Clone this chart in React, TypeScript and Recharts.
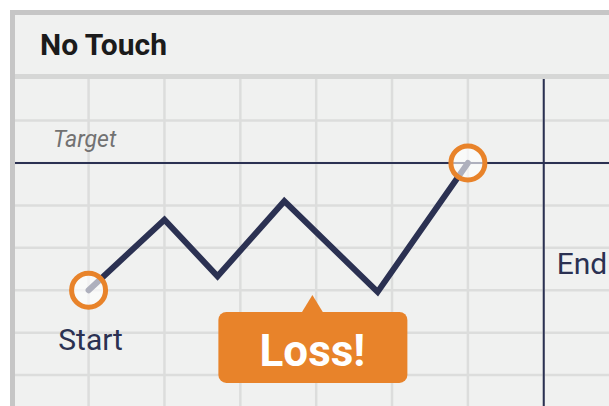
import React from "react";
import {
  LineChart,
  Line,
  XAxis,
  YAxis,
  CartesianGrid,
  ReferenceLine,
  ReferenceDot,
} from "recharts";

const TITLE = "No Touch";
const TARGET_LABEL = "Target";
const START_LABEL = "Start";
const END_LABEL = "End";
const CALLOUT_TEXT = "Loss!";

// price path, in grid units
const pathX = [1, 2, 2.7, 3.58, 4.81, 6];
const pathY = [3.0, 4.66, 3.33, 5.1, 2.96, 6];

const gridX = [1, 2, 3, 4, 5, 6, 7];
const gridY = [1, 2, 3, 4, 5, 6, 7];

const TARGET_Y = 6;
const END_X = 7;
const calloutAt = { x: 3.95, y: 2.89 };

const C = {
  bg: "#f0f1f0",
  grid: "#dcdddc",
  frame: "#c6c6c6",
  divider: "#d6d7d6",
  navy: "#2b3152",
  orange: "#e8832a",
  title: "#1b1b1b",
  muted: "#727272",
};

const FONT = "Roboto, 'Noto Sans', sans-serif";

const data = pathX.map((x, i) => ({ x, y: pathY[i] }));
const last = data.length - 1;

function renderDot(props: any) {
  const { cx, cy, index } = props;
  if (index !== 0 && index !== last) return <g key={`d${index}`} />;
  return (
    <g key={`d${index}`}>
      <circle cx={cx} cy={cy} r={17} fill="#ffffff" fillOpacity={0.62} stroke={C.orange} strokeWidth={5} />
      {index === 0 && (
        <text x={cx + 2} y={cy + 60} textAnchor="middle" fontFamily={FONT} fontSize={30} fill={C.navy}>
          {START_LABEL}
        </text>
      )}
    </g>
  );
}

function Callout(props: any) {
  const { cx, cy } = props;
  const left = cx - 94;
  const top = cy + 17;
  const w = 189;
  const h = 71;
  return (
    <g>
      <path d={`M${cx - 11},${top + 1} L${cx},${cy} L${cx + 11},${top + 1} Z`} fill={C.orange} />
      <rect x={left} y={top} width={w} height={h} rx={8} fill={C.orange} />
      <text x={cx} y={cy + 71} textAnchor="middle" fontFamily={FONT} fontWeight={700} fontSize={44} fill="#ffffff">
        {CALLOUT_TEXT}
      </text>
    </g>
  );
}

export default function App() {
  return (
    <div style={{ position: "absolute", top: 0, left: 0, width: 609, height: 406, overflow: "hidden", background: "#ffffff" }}>
      <div
        style={{
          position: "absolute",
          left: 10,
          top: 10,
          width: 620,
          height: 420,
          borderLeft: `5px solid ${C.frame}`,
          borderTop: `5px solid ${C.frame}`,
          background: C.bg,
        }}
      >
        <div style={{ height: 59, borderBottom: `5px solid ${C.divider}` }} />
        <div
          style={{
            position: "absolute",
            left: 25,
            top: 15,
            fontFamily: FONT,
            fontWeight: 700,
            fontSize: 30,
            lineHeight: "30px",
            color: C.title,
          }}
        >
          {TITLE}
        </div>
      </div>
      <LineChart
        width={609}
        height={406}
        data={data}
        margin={{ top: 79, left: 15, right: 0, bottom: 0 }}
        style={{ position: "absolute", top: 0, left: 0 }}
      >
        <CartesianGrid fill={C.bg} stroke="none" />
        <XAxis
          dataKey="x"
          type="number"
          domain={[0.03, 7.86]}
          ticks={gridX}
          tick={false}
          tickLine={false}
          axisLine={false}
          height={0}
          allowDataOverflow
        />
        <YAxis
          type="number"
          domain={[0.27, 7.98]}
          ticks={gridY}
          tick={false}
          tickLine={false}
          axisLine={false}
          width={0}
          allowDataOverflow
        />
        {gridX.map((v) => (
          <ReferenceLine key={`gx${v}`} x={v} stroke={C.grid} strokeWidth={2.5} />
        ))}
        {gridY.map((v) => (
          <ReferenceLine key={`gy${v}`} y={v} stroke={C.grid} strokeWidth={2.5} />
        ))}
        <ReferenceLine
          y={TARGET_Y}
          stroke={C.navy}
          strokeWidth={2}
          label={(p: any) => (
            <text x={p.viewBox.x + 38} y={p.viewBox.y - 16} fontFamily={FONT} fontStyle="italic" fontSize={23} fill={C.muted}>
              {TARGET_LABEL}
            </text>
          )}
        />
        <ReferenceLine
          x={END_X}
          stroke={C.navy}
          strokeWidth={2}
          label={(p: any) => (
            <text x={p.viewBox.x + 13} y={p.viewBox.y + 195} fontFamily={FONT} fontSize={30} fill={C.navy}>
              {END_LABEL}
            </text>
          )}
        />
        <Line
          dataKey="y"
          type="linear"
          stroke={C.navy}
          strokeWidth={6}
          strokeLinejoin="miter"
          strokeLinecap="round"
          dot={renderDot}
          activeDot={false}
          isAnimationActive={false}
        />
        <ReferenceDot x={calloutAt.x} y={calloutAt.y} r={0} shape={Callout} />
      </LineChart>
    </div>
  );
}
